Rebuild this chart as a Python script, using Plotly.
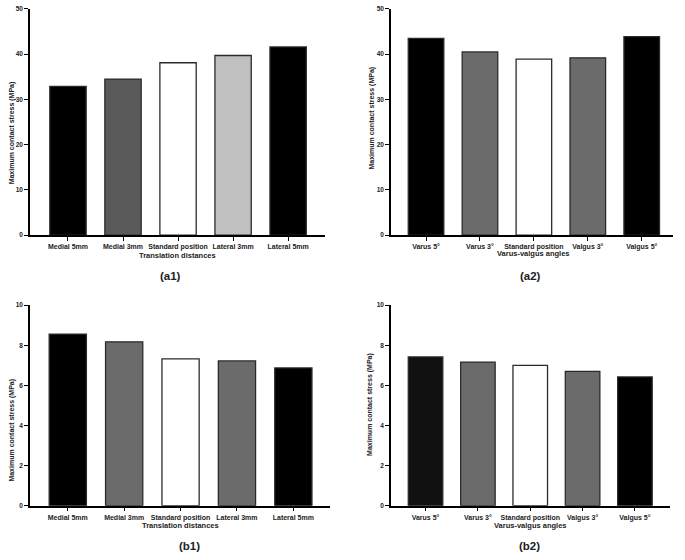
import plotly.graph_objects as go

# ---- data ----
trans_cats = ["Medial 5mm", "Medial 3mm", "Standard position", "Lateral 3mm", "Lateral 5mm"]
angle_cats = ["Varus 5°", "Varus 3°", "Standard position", "Valgus 3°", "Valgus 5°"]

a1_values = [32.9, 34.5, 38.1, 39.7, 41.6]
a2_values = [43.5, 40.5, 38.9, 39.2, 43.9]
b1_values = [8.56, 8.17, 7.32, 7.22, 6.87]
b2_values = [7.42, 7.16, 7.0, 6.70, 6.42]

a1_colors = ["#000000", "#5a5a5a", "#ffffff", "#c0c0c0", "#000000"]
a2_colors = ["#000000", "#6b6b6b", "#ffffff", "#6b6b6b", "#000000"]
b1_colors = ["#000000", "#6b6b6b", "#ffffff", "#6b6b6b", "#000000"]
b2_colors = ["#111111", "#6b6b6b", "#ffffff", "#6b6b6b", "#000000"]

a_ticks = [0, 10, 20, 30, 40, 50]
b_ticks = [0, 2, 4, 6, 8, 10]

W, H = 685, 560
FONT = "Liberation Sans, Arial, sans-serif"

panels = [
    dict(cats=trans_cats, vals=a1_values, cols=a1_colors, xd=(30, 325), yd=(5, 234), ymax=50, ticks=a_ticks,
         xr=(-0.69, 4.67), xt="Translation distances", xtp=(177, 255), ytp=(12, 131), lab="(a1)", labp=(170, 275)),
    dict(cats=angle_cats, vals=a2_values, cols=a2_colors, xd=(391, 673), yd=(5, 234), ymax=50, ticks=a_ticks,
         xr=(-0.65, 4.58), xt="Varus-valgus angles", xtp=(533, 253), ytp=(372, 116), lab="(a2)", labp=(530, 275)),
    dict(cats=trans_cats, vals=b1_values, cols=b1_colors, xd=(30, 330), yd=(305, 508), ymax=10, ticks=b_ticks,
         xr=(-0.67, 4.65), xt="Translation distances", xtp=(180, 528), ytp=(12, 432), lab="(b1)", labp=(189, 549)),
    dict(cats=angle_cats, vals=b2_values, cols=b2_colors, xd=(391, 670), yd=(305, 508), ymax=10, ticks=b_ticks,
         xr=(-0.66, 4.67), xt="Varus-valgus angles", xtp=(530, 528), ytp=(370, 406), lab="(b2)", labp=(529, 549)),
]

fig = go.Figure()
annotations = []
layout = {}
for i, p in enumerate(panels, start=1):
    sx = "" if i == 1 else str(i)
    fig.add_trace(go.Bar(
        x=p["cats"], y=p["vals"], width=0.66,
        marker=dict(color=p["cols"], line=dict(color="#2b2b2b", width=1.3)),
        xaxis="x" + sx, yaxis="y" + sx, showlegend=False,
    ))
    layout["xaxis" + sx] = dict(
        domain=[p["xd"][0] / W, p["xd"][1] / W], anchor="y" + sx,
        type="category", range=list(p["xr"]),
        showline=True, linecolor="#000000", linewidth=1.5,
        ticks="outside", ticklen=4, tickwidth=1.2, tickcolor="#000000",
        tickfont=dict(family=FONT, size=7, color="#222222", weight="bold"),
        showgrid=False, zeroline=False, fixedrange=True,
    )
    layout["yaxis" + sx] = dict(
        domain=[1 - p["yd"][1] / H, 1 - p["yd"][0] / H], anchor="x" + sx,
        range=[0, p["ymax"]], tickvals=p["ticks"],
        showline=True, linecolor="#000000", linewidth=1.5,
        ticks="outside", ticklen=4, tickwidth=1.2, tickcolor="#000000",
        tickfont=dict(family=FONT, size=6.5, color="#222222", weight="bold"),
        showgrid=False, zeroline=False, fixedrange=True,
    )
    annotations.append(dict(
        x=p["xtp"][0] / W, y=1 - p["xtp"][1] / H, xref="paper", yref="paper",
        text=p["xt"], showarrow=False, xanchor="center", yanchor="middle",
        font=dict(family=FONT, size=7.5, color="#222222", weight="bold"),
    ))
    annotations.append(dict(
        x=p["ytp"][0] / W, y=1 - p["ytp"][1] / H, xref="paper", yref="paper",
        text="Maximum contact stress (MPa)", showarrow=False, textangle=-90,
        xanchor="center", yanchor="middle",
        font=dict(family=FONT, size=7, color="#222222", weight="bold"),
    ))
    annotations.append(dict(
        x=p["labp"][0] / W, y=1 - p["labp"][1] / H, xref="paper", yref="paper",
        text=p["lab"], showarrow=False, xanchor="center", yanchor="middle",
        font=dict(family=FONT, size=11.5, color="#222222", weight="bold"),
    ))

fig.update_layout(
    width=W, height=H, margin=dict(l=0, r=0, t=0, b=0),
    paper_bgcolor="#ffffff", plot_bgcolor="#ffffff",
    annotations=annotations, bargap=0.34,
    **layout,
)

fig.write_html(
    "out.html",
    config={"displayModeBar": False},
    post_script="document.body.style.margin='0';document.body.style.overflow='hidden';",
)
